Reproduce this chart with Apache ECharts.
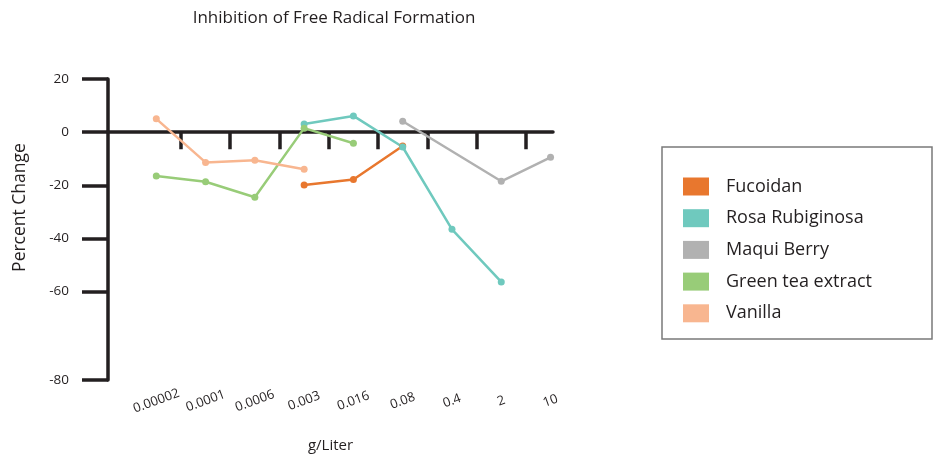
<!DOCTYPE html>
<html>
<head>
<meta charset="utf-8">
<title>Inhibition of Free Radical Formation</title>
<script src="https://cdn.jsdelivr.net/npm/echarts@6/dist/echarts.min.js"></script>
<style>
  html, body { margin: 0; padding: 0; background: #fff; }
  #chart { width: 933px; height: 458px; }
</style>
</head>
<body>
<div id="chart"></div>
<script>
// categories on the x axis (g/Liter)
const concentrations = ["0.00002", "0.0001", "0.0006", "0.003", "0.016", "0.08", "0.4", "2", "10"];

// percent change per concentration, null = not measured
const fucoidan = [null, null, null, -19.9, -17.8, -5.2, null, null, null];
const rosaRubiginosa = [null, null, null, 3.1, 6.1, -5.6, -36.6, -56.4, null];
const maquiBerry = [null, null, null, null, null, 4.1, null, -18.5, -9.5];
const greenTea = [-16.5, -18.7, -24.5, 1.5, -4.2, null, null, null, null];
const vanilla = [5.0, -11.4, -10.6, -14.0, null, null, null, null, null];

// the source axis leaves an extra gap above -80, so its tick sits lower
const yTickValues = [20, 0, -20, -40, -60, -93.3];
const yTickLabels = ["20", "0", "-20", "-40", "-60", "-80"];

const seriesDefs = [
  { name: "Fucoidan", color: "#e8772e", values: fucoidan },
  { name: "Rosa Rubiginosa", color: "#6fc9be", values: rosaRubiginosa },
  { name: "Maqui Berry", color: "#b1b1b1", values: maquiBerry },
  { name: "Green tea extract", color: "#98cc78", values: greenTea },
  { name: "Vanilla", color: "#f8b690", values: vanilla }
];

const ink = "#231f20";
const font = "'Open Sans', 'Noto Sans', sans-serif";

function toPoints(values) {
  return values
    .map((v, i) => (v === null ? null : [i, v]))
    .filter((p) => p !== null);
}

function yLabel(value) {
  const idx = yTickValues.findIndex((t) => Math.abs(t - value) < 1e-6);
  return idx >= 0 ? yTickLabels[idx] : "";
}

const chart = echarts.init(document.getElementById("chart"));

chart.setOption({
  animation: false,
  textStyle: { fontFamily: font },
  title: {
    text: "Inhibition of Free Radical Formation",
    left: 334,
    top: 10,
    padding: 0,
    textAlign: "center",
    textStyle: { fontFamily: font, fontSize: 17, fontWeight: "normal", color: ink }
  },
  grid: { left: 108, right: 380, top: 79, height: 305.3 },
  legend: {
    orient: "vertical",
    left: 683,
    top: 177.5,
    padding: 0,
    icon: "rect",
    itemWidth: 26,
    itemHeight: 18,
    itemGap: 13.7,
    textStyle: { fontFamily: font, fontSize: 18, color: ink, lineHeight: 18, padding: [0, 0, 0, 12] },
    data: seriesDefs.map((s) => s.name)
  },
  graphic: [
    {
      type: "rect",
      shape: { x: 662, y: 147, width: 270, height: 192 },
      style: { fill: "none", stroke: "#7a7a7a", lineWidth: 1.5 }
    },
    {
      type: "text",
      x: 20,
      y: 207.5,
      rotation: Math.PI / 2,
      style: {
        text: "Percent Change",
        align: "center",
        verticalAlign: "middle",
        font: "17.5px " + font,
        fill: ink
      }
    }
  ],
  xAxis: [
    {
      type: "value",
      position: "bottom",
      min: -0.98,
      max: 8.05,
      axisLine: { show: true, onZero: true, lineStyle: { color: ink, width: 3.5 } },
      axisTick: {
        show: true,
        length: 17,
        customValues: concentrations.slice(1).map((_, i) => i + 0.5),
        lineStyle: { color: ink, width: 3.5 }
      },
      axisLabel: { show: false },
      splitLine: { show: false }
    },
    {
      type: "value",
      position: "bottom",
      min: -0.98,
      max: 8.05,
      name: "g/Liter",
      nameLocation: "middle",
      nameGap: 58,
      nameTextStyle: { fontFamily: font, fontSize: 15, color: ink },
      axisLine: { show: false, onZero: false },
      axisTick: { show: false },
      axisLabel: {
        customValues: concentrations.map((_, i) => i),
        formatter: (v) => concentrations[Math.round(v)],
        rotate: 20,
        align: "center",
        verticalAlign: "middle",
        margin: 21,
        fontFamily: font,
        fontSize: 13,
        color: ink
      },
      splitLine: { show: false }
    }
  ],
  yAxis: {
    type: "value",
    min: -93.3,
    max: 20,
    axisLine: { show: true, onZero: false, lineStyle: { color: ink, width: 3.5 } },
    axisTick: {
      show: true,
      length: 26,
      customValues: yTickValues,
      lineStyle: { color: ink, width: 3.5 }
    },
    axisLabel: {
      customValues: yTickValues,
      formatter: yLabel,
      margin: 39,
      fontFamily: font,
      fontSize: 13.5,
      color: ink
    },
    splitLine: { show: false }
  },
  series: seriesDefs.map((s) => ({
    name: s.name,
    type: "line",
    xAxisIndex: 0,
    data: toPoints(s.values),
    symbol: "circle",
    symbolSize: 7,
    color: s.color,
    lineStyle: { color: s.color, width: 2.5 },
    itemStyle: { color: s.color }
  }))
});
</script>
</body>
</html>
